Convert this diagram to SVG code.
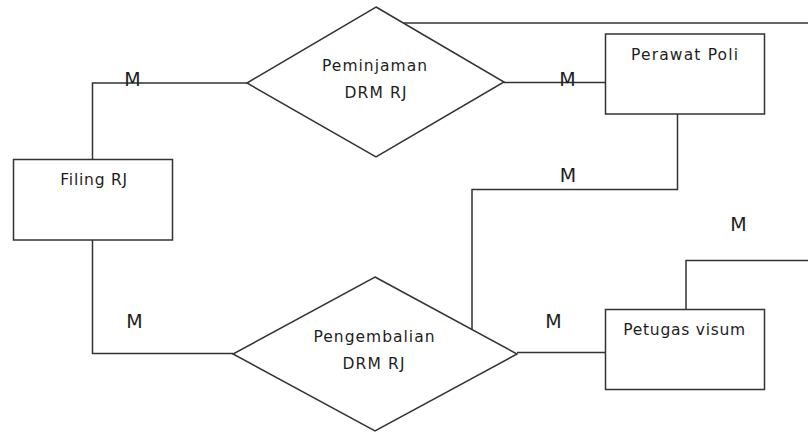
<svg xmlns="http://www.w3.org/2000/svg" width="808" height="432" viewBox="0 0 808 432">
  <style>
    .shape { fill: #ffffff; stroke: #333333; stroke-width: 1.5; }
    .conn { fill: none; stroke: #333333; stroke-width: 1.5; }
    .lbl { font-family: "DejaVu Sans", "Noto Sans", sans-serif; font-size: 15.5px; fill: #1e1e1e; text-anchor: middle; }
    .card { font-family: "DejaVu Sans", "Noto Sans", sans-serif; font-size: 19px; fill: #1e1e1e; text-anchor: middle; }
  </style>
  <rect width="808" height="432" fill="#ffffff"/>

  <g id="connectors">
    <polyline class="conn" points="247,83 92.5,83 92.5,159.5"/>
    <line class="conn" x1="504" y1="82.5" x2="605.5" y2="82.5"/>
    <line class="conn" x1="402" y1="23" x2="808" y2="23"/>
    <polyline class="conn" points="677.5,114 677.5,189.5 472,189.5 472,330"/>
    <polyline class="conn" points="92.5,240 92.5,353.5 233,353.5"/>
    <line class="conn" x1="517" y1="352.5" x2="605.5" y2="352.5"/>
    <polyline class="conn" points="686,309.5 686,260.5 808,260.5"/>
  </g>

  <g id="cardinalities">
    <text class="card" x="132.5" y="85.5">M</text>
    <text class="card" x="567.5" y="86">M</text>
    <text class="card" x="568" y="182">M</text>
    <text class="card" x="134.5" y="327.5">M</text>
    <text class="card" x="553.5" y="327.5">M</text>
    <text class="card" x="738.5" y="231">M</text>
  </g>

  <g id="peminjaman">
    <polygon class="shape" points="376,7 504,82 376,157 247,83"/>
    <text class="lbl" x="374.5" y="71" textLength="105" lengthAdjust="spacing">Peminjaman</text>
    <text class="lbl" x="375.5" y="97.5" textLength="62" lengthAdjust="spacing">DRM RJ</text>
  </g>

  <g id="pengembalian">
    <polygon class="shape" points="375,277 517,354 375,431 233,354"/>
    <text class="lbl" x="374" y="342" textLength="121" lengthAdjust="spacing">Pengembalian</text>
    <text class="lbl" x="373.5" y="368.5" textLength="62" lengthAdjust="spacing">DRM RJ</text>
  </g>

  <g id="filing-rj">
    <rect class="shape" x="13.5" y="159.5" width="159" height="80.5"/>
    <text class="lbl" x="93.7" y="185" textLength="67" lengthAdjust="spacing">Filing RJ</text>
  </g>

  <g id="perawat-poli">
    <rect class="shape" x="605.5" y="34" width="159" height="80"/>
    <text class="lbl" x="684.5" y="59.5" textLength="107" lengthAdjust="spacing">Perawat Poli</text>
  </g>

  <g id="petugas-visum">
    <rect class="shape" x="605.5" y="309.5" width="159" height="80"/>
    <text class="lbl" x="684.2" y="335" textLength="122" lengthAdjust="spacing">Petugas visum</text>
  </g>
</svg>
